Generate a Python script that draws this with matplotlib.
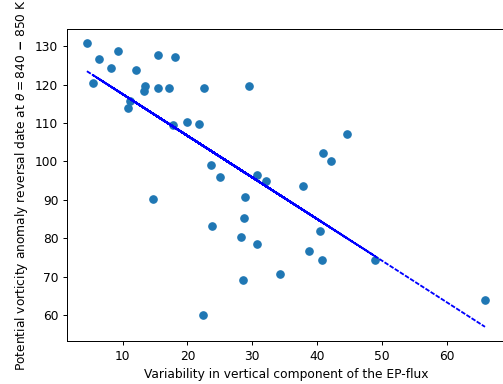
import numpy as np
import matplotlib
matplotlib.use("Agg")
import matplotlib.pyplot as plt

# EP-flux variability vs PV anomaly reversal date (day of year), one entry per winter
ep_flux_var = [4.5, 44.6, 5.4, 40.9, 6.4, 42.1, 8.2, 40.5, 9.3, 40.8,
               11.1, 49.0, 10.8, 37.8, 15.4, 38.8, 12.1, 34.3, 13.4, 30.8,
               13.3, 32.1, 18.1, 28.9, 15.5, 28.8, 17.2, 30.8, 22.6, 28.3,
               29.5, 23.8, 17.8, 28.5, 19.9, 14.7, 21.8, 23.7, 25.0, 22.4,
               65.9]
reversal_date = [130.7, 107.2, 120.3, 102.2, 126.7, 100.0, 124.2, 82.0, 128.8, 74.3,
                 115.6, 74.4, 113.8, 93.7, 127.7, 76.7, 123.7, 70.7, 119.7, 96.4,
                 118.2, 94.9, 127.2, 90.8, 119.0, 85.2, 119.2, 78.4, 119.2, 80.4,
                 119.5, 83.2, 109.4, 69.2, 110.2, 90.2, 109.7, 99.0, 96.0, 60.0,
                 64.0]

x = np.array(ep_flux_var)
y = np.array(reversal_date)
m, b = np.polyfit(x, y, 1)

dpi = 88.5
fig = plt.figure(figsize=(503 / dpi, 384 / dpi), dpi=dpi)
ax = fig.add_axes([0.1332, 0.112, 0.8706, 0.8117])
ax.scatter(x, y)
ax.plot(x, m * x + b, color='b', linestyle=(0, (2.5, 0.8)))
ax.set_xlabel("Variability in vertical component of the EP-flux")
ax.set_ylabel(r"Potential vorticity anomaly reversal date at $\theta = 840\ \mathbf{-}\ 850$ K")
fig.savefig("out.png", dpi=dpi)
